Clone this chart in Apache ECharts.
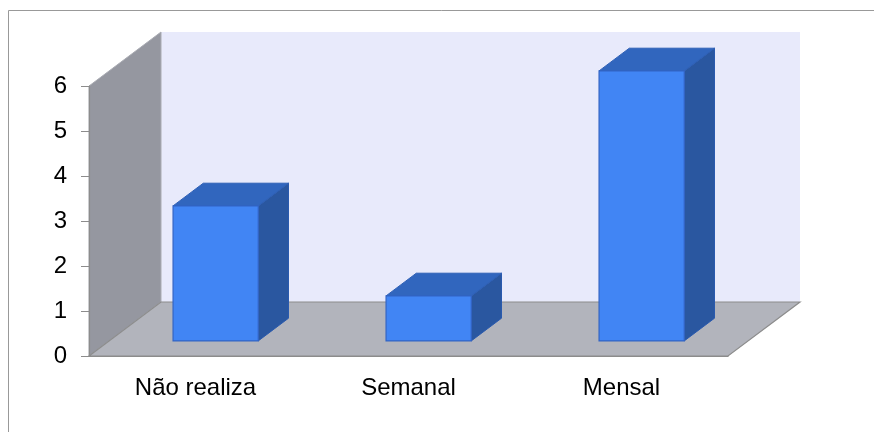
<!DOCTYPE html>
<html>
<head>
<meta charset="utf-8">
<script src="https://cdn.jsdelivr.net/npm/echarts@6/dist/echarts.min.js"></script>
<style>
  html, body { margin: 0; padding: 0; background: #fff; }
  #chart { width: 874px; height: 432px; }
</style>
</head>
<body>
<div id="chart"></div>
<script>
// data
const categories = ['Não realiza', 'Semanal', 'Mensal'];
const values = [3, 1, 6];
const yTicks = [0, 1, 2, 3, 4, 5, 6];

// 3d depth of the plot box (pixels)
const DX = 72;
const DY = -54;
// bar depth range inside the box
const Z0 = 0.28;
const Z1 = 0.70;

const chart = echarts.init(document.getElementById('chart'));

function renderWalls(params, api) {
  const cs = params.coordSys;
  const x = cs.x, y = cs.y, w = cs.width, h = cs.height;
  return {
    type: 'group',
    children: [
      {
        type: 'polygon',
        shape: { points: [[x + DX, y + DY], [x + w + DX, y + DY], [x + w + DX, y + h + DY], [x + DX, y + h + DY]] },
        style: { fill: '#E8EAFB', stroke: null },
      },
      {
        type: 'polygon',
        shape: { points: [[x, y], [x + DX, y + DY], [x + DX, y + h + DY], [x, y + h]] },
        style: { fill: '#9597A0', stroke: '#A9ABB2', lineWidth: 1 },
      },
      {
        type: 'polygon',
        shape: { points: [[x, y + h], [x + DX, y + h + DY], [x + w + DX, y + h + DY], [x + w, y + h]] },
        style: { fill: '#B2B4BC', stroke: '#8C8C8C', lineWidth: 1.2 },
      },
    ],
  };
}

function renderBar(params, api) {
  const idx = api.value(0);
  const v = api.value(1);
  const base = api.coord([idx, 0]);
  const top = api.coord([idx, v]);
  const bw = api.size([1, 0])[0] * 0.40;
  const x0 = base[0] - bw / 2 + DX * Z0;
  const x1 = x0 + bw;
  const yb = base[1] + DY * Z0;
  const yt = top[1] + DY * Z0;
  const bx = DX * (Z1 - Z0);
  const by = DY * (Z1 - Z0);
  return {
    type: 'group',
    children: [
      {
        type: 'polygon',
        shape: { points: [[x1, yb], [x1 + bx, yb + by], [x1 + bx, yt + by], [x1, yt]] },
        style: { fill: '#2A57A0', stroke: '#2A5AAE', lineWidth: 1 },
      },
      {
        type: 'polygon',
        shape: { points: [[x0, yt], [x0 + bx, yt + by], [x1 + bx, yt + by], [x1, yt]] },
        style: { fill: '#3166BE', stroke: '#2E60B6', lineWidth: 1 },
      },
      {
        type: 'polygon',
        shape: { points: [[x0, yb], [x0, yt], [x1, yt], [x1, yb]] },
        style: { fill: '#4185F4', stroke: '#3264C4', lineWidth: 1.2 },
      },
    ],
  };
}

const option = {
  animation: false,
  textStyle: { fontFamily: 'Liberation Sans' },
  graphic: [
    { type: 'line', shape: { x1: 8.5, y1: 10.5, x2: 874, y2: 10.5 }, style: { stroke: '#999', lineWidth: 1 } },
    { type: 'line', shape: { x1: 8.5, y1: 10.5, x2: 8.5, y2: 432 }, style: { stroke: '#999', lineWidth: 1 } },
  ],
  grid: { left: 89, right: 146, top: 86, bottom: 76 },
  xAxis: {
    type: 'category',
    data: categories,
    z: 10,
    axisLine: { lineStyle: { color: '#8C8C8C', width: 1.2 } },
    axisTick: { length: 7, lineStyle: { color: '#8C8C8C' } },
    axisLabel: { color: '#000', fontSize: 24, margin: 20 },
    splitLine: { show: false },
  },
  yAxis: {
    type: 'value',
    min: yTicks[0],
    max: yTicks[yTicks.length - 1],
    interval: 1,
    z: 10,
    axisLine: { show: true, lineStyle: { color: '#8C8C8C', width: 1.2 } },
    axisTick: { show: true, length: 8, lineStyle: { color: '#8C8C8C' } },
    axisLabel: { color: '#000', fontSize: 24, margin: 22 },
    splitLine: { show: false },
  },
  series: [
    {
      type: 'custom',
      z: 1,
      silent: true,
      data: [[0, 0]],
      renderItem: renderWalls,
    },
    {
      type: 'custom',
      z: 2,
      data: categories.map((c, i) => [i, values[i]]),
      encode: { x: 0, y: 1 },
      renderItem: renderBar,
    },
  ],
};

chart.setOption(option);
</script>
</body>
</html>
